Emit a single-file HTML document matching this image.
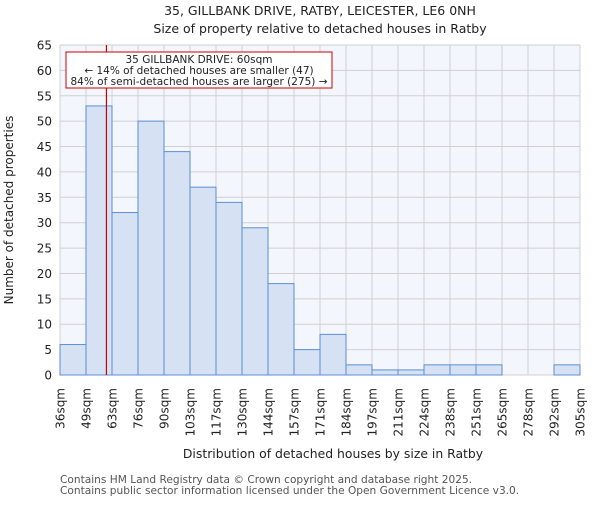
<!DOCTYPE html>
<html><head><meta charset="utf-8"><style>
body{margin:0;background:#fff;}
svg{font-family:"DejaVu Sans","Liberation Sans",sans-serif;}
</style></head><body>
<svg width="600" height="500" id="chart">
<text x="320" y="15" text-anchor="middle" font-size="12.5" fill="#222">35, GILLBANK DRIVE, RATBY, LEICESTER, LE6 0NH</text>
<text x="320" y="33" text-anchor="middle" font-size="12.5" fill="#222">Size of property relative to detached houses in Ratby</text>
<rect x="60" y="45" width="520" height="330" fill="#f3f6fd"/>
<g id="grid"></g>
<g id="bars"></g>
<g id="yticks"></g>
<g id="xticks"></g>
<line id="marker" stroke="#cc0000" stroke-width="1.2"/>
<rect x="66" y="52" width="266" height="36" fill="#fff" stroke="#cc0000" stroke-width="1"/>
<text x="199" y="63" text-anchor="middle" font-size="10.5" fill="#222">35 GILLBANK DRIVE: 60sqm</text>
<text x="199" y="74" text-anchor="middle" font-size="10.5" fill="#222">← 14% of detached houses are smaller (47)</text>
<text x="199" y="85" text-anchor="middle" font-size="10.5" fill="#222">84% of semi-detached houses are larger (275) →</text>
<text x="333" y="458" text-anchor="middle" font-size="12.4" fill="#222">Distribution of detached houses by size in Ratby</text>
<text transform="translate(13,210) rotate(-90)" text-anchor="middle" font-size="12" fill="#222">Number of detached properties</text>
<text x="60" y="483" font-size="10.6" fill="#555">Contains HM Land Registry data © Crown copyright and database right 2025.</text>
<text x="60" y="494" font-size="10.6" fill="#555">Contains public sector information licensed under the Open Government Licence v3.0.</text>
</svg>
<script>
const categories=["36sqm","49sqm","63sqm","76sqm","90sqm","103sqm","117sqm","130sqm","144sqm","157sqm","171sqm","184sqm","197sqm","211sqm","224sqm","238sqm","251sqm","265sqm","278sqm","292sqm","305sqm"];
const counts=[6,53,32,50,44,37,34,29,18,5,8,2,1,1,2,2,2,0,0,2];
const yTicks=[0,5,10,15,20,25,30,35,40,45,50,55,60,65];
const edgeValues=[36,49,63,76,90,103,117,130,144,157,171,184,197,211,224,238,251,265,278,292,305];
const markerValue=60;
const NS="http://www.w3.org/2000/svg";
const X0=60,X1=580,Y0=375,Y1=45,YMAX=65;
const bw=(X1-X0)/counts.length;
const xs=i=>X0+i*bw;
const ys=v=>Y0-(v/YMAX)*(Y0-Y1);
function mk(t,a,p){const e=document.createElementNS(NS,t);for(const k in a)e.setAttribute(k,a[k]);p.appendChild(e);return e;}
const grid=document.getElementById('grid'),bars=document.getElementById('bars'),yt=document.getElementById('yticks'),xt=document.getElementById('xticks');
yTicks.forEach(v=>{
 const l=mk('line',{x1:X0,x2:X1,y1:ys(v),y2:ys(v),stroke:'#d0d0d0','stroke-width':1},grid);
 
 
 const t=mk('text',{x:X0-8,y:ys(v)+4.5,'text-anchor':'end','font-size':12,fill:'#222'},yt);
 t.textContent=v;
 
 
});
categories.forEach((c,i)=>{
 const x=xs(i);
 const l=mk('line',{x1:x,x2:x,y1:Y1,y2:Y0,stroke:'#d0d0d0','stroke-width':1},grid);
 
 
 const t=mk('text',{transform:`translate(${x+4.5},388) rotate(-90)`,'text-anchor':'end','font-size':12,fill:'#222'},xt);
 t.textContent=c;
 
 
});
counts.forEach((v,i)=>{
 if(v<=0)return;
 const r=mk('rect',{x:xs(i),y:ys(v),width:bw,height:Y0-ys(v),fill:'#d6e1f3',stroke:'#5b8fd6','stroke-width':1},bars);
 
 
});
let k=0;while(k<edgeValues.length-2&&edgeValues[k+1]<markerValue)k++;
const mx=xs(k)+(markerValue-edgeValues[k])/(edgeValues[k+1]-edgeValues[k])*bw;
const m=document.getElementById('marker');
m.setAttribute('x1',mx);m.setAttribute('x2',mx);m.setAttribute('y1',Y1);m.setAttribute('y2',Y0);
</script>
</body></html>
